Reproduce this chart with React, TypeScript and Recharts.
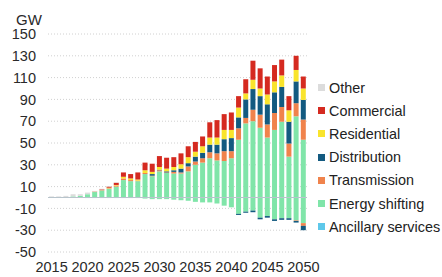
import { Bar, BarChart, CartesianGrid, ReferenceLine, XAxis, YAxis } from "recharts";

const years = [
  "2015", "2016", "2017", "2018", "2019", "2020", "2021", "2022", "2023", "2024",
  "2025", "2026", "2027", "2028", "2029", "2030", "2031", "2032", "2033", "2034",
  "2035", "2036", "2037", "2038", "2039", "2040", "2041", "2042", "2043", "2044",
  "2045", "2046", "2047", "2048", "2049", "2050",
];

// GW by segment
const ancillary = [
  0, 0, 0, 0, 0, -0.5, -0.5, -0.5, -0.5, -0.5, -0.5, -0.5, -0.5, -0.5, -0.5, -0.5, -0.5, -0.5,
  -0.5, -0.5, -0.5, -0.5, 0, 0, 0, 0, 0, 0, 0, 0, 0, 0, 0, 0, 0, 0,
];
const energyShifting = [
  0, 0, 0.5, 1, 1.5, 3, 5, 6.5, 8, 10, 16, 15, 15, 21.5, 19.5, 24, 22.5, 22, 22, 24,
  30, 32, 36, 34, 33.5, 36, 53, 68, 70, 64, 55, 62, 69.5, 37.5, 74.5, 53,
];
const energyShiftingNeg = [
  0, 0, 0, 0, 0, 0, 0, 0, 0, 0, 0, 0, 0, -0.5, -1, -1, -1, -1.5, -2, -2.5,
  -3.5, -4, -4.5, -5.5, -7.5, -9, -15, -13, -12, -18.5, -17, -20, -19, -19, -21, -23.5,
];
const transmission = [
  0, 0, 0, 0, 0, 0, 0.5, 0.5, 0.5, 1, 1.5, 1, 0.5, 1, 0.5, 1, 0.5, 1.5, 1, 4.5,
  3, 4, 5.5, 6.5, 9, 6.5, 10.5, 5, 10.5, 12, 12, 15.5, 13.5, 12, 12, 18.5,
];
const transmissionNeg = [
  0, 0, 0, 0, 0, 0, 0, 0, 0, 0, 0, 0, 0, 0, 0, 0, 0, 0, 0, 0,
  0, 0, 0, 0, 0, 0, 0, 0, 0, 0, 0, 0, 0, 0, -0.5, -2.5,
];
const distribution = [
  0, 0, 0, 0, 0, 0, 0, 0, 0, 0, 0, 0, 0, 0, 1.5, 0.5, 1, 1.5, 3.5, 3,
  4.5, 5, 7, 8, 11, 12, 10, 17, 19, 17, 18.5, 19, 18.5, 20, 20, 18,
];
const distributionNeg = [
  0, 0, 0, 0, 0, 0, 0, 0, 0, 0, 0, 0, 0, 0, 0, 0, 0, 0, 0, 0,
  0, 0, 0, 0, 0, 0, -1, -1, -1.5, -1.5, -1.5, -1.5, -1.5, -1.5, -1.5, -4,
];
const residential = [
  0, 0, 0, 0, 0, 0, 0, 0, 0.5, 0.5, 1.5, 1.5, 1, 2.5, 2, 2.5, 2.5, 3, 4, 5.5,
  4.5, 6, 6.5, 6.5, 8.5, 7.5, 9, 5.5, 8.5, 7, 9, 10, 10.5, 10.5, 10.5, 10.5,
];
const commercial = [
  0, 0, 0, 0, 0, 0, 0, 0.5, 1, 2, 4, 4, 6.5, 7, 7.5, 10, 10, 9, 10, 10,
  9, 9, 14, 16, 14.5, 16, 10.5, 13, 17.5, 18.5, 16.5, 15, 14.5, 13, 13, 11,
];
const other = [
  1, 1, 1, 2, 1.5, 1.5, 0.5, 0.5, 0.5, 0.5, 0, 0, 0, 0, 0, 0, 0, 0, 0, 0,
  0, 0, 0, 0, 0, 0, 0, 0, 0, 0, 0, 0, 0, 0, 0, 0,
];

const yTicks = [150, 130, 110, 90, 70, 50, 30, 10, -10, -30, -50];

const data = years.map((year, i) => ({
  year,
  ancillary: ancillary[i],
  energyShifting: energyShifting[i],
  energyShiftingNeg: energyShiftingNeg[i],
  transmission: transmission[i],
  transmissionNeg: transmissionNeg[i],
  distribution: distribution[i],
  distributionNeg: distributionNeg[i],
  residential: residential[i],
  commercial: commercial[i],
  other: other[i],
}));

const COLORS = {
  ancillary: "#5ec8ea",
  energyShifting: "#80e5a9",
  transmission: "#f0834c",
  distribution: "#135a80",
  residential: "#f9e42c",
  commercial: "#d52a20",
  other: "#dcdcdc",
};

// stacking order, bottom to top
const series = [
  { key: "ancillary", color: COLORS.ancillary },
  { key: "energyShifting", color: COLORS.energyShifting },
  { key: "energyShiftingNeg", color: COLORS.energyShifting },
  { key: "transmission", color: COLORS.transmission },
  { key: "transmissionNeg", color: COLORS.transmission },
  { key: "distribution", color: COLORS.distribution },
  { key: "distributionNeg", color: COLORS.distribution },
  { key: "residential", color: COLORS.residential },
  { key: "commercial", color: COLORS.commercial },
  { key: "other", color: COLORS.other },
];

const legendItems = [
  { name: "Other", color: COLORS.other },
  { name: "Commercial", color: COLORS.commercial },
  { name: "Residential", color: COLORS.residential },
  { name: "Distribution", color: COLORS.distribution },
  { name: "Transmission", color: COLORS.transmission },
  { name: "Energy shifting", color: COLORS.energyShifting },
  { name: "Ancillary services", color: COLORS.ancillary },
];

const FONT = "'Liberation Sans', Arial, sans-serif";

export default function App() {
  return (
    <div style={{ position: "relative", width: 442, height: 277, background: "#fff", fontFamily: FONT }}>
      <style>{"body{margin:0}"}</style>
      <div style={{ position: "absolute", left: 16, top: 11, fontSize: 15, color: "#2a2a2a" }}>GW</div>
      <BarChart
        width={442}
        height={277}
        data={data}
        stackOffset="sign"
        barSize={5}
        margin={{ top: 34, right: 135, bottom: 0, left: 8 }}
      >
        <CartesianGrid vertical={false} stroke="#d0d0d0" strokeDasharray="1 2" />
        <XAxis
          dataKey="year"
          interval={4}
          axisLine={false}
          tickLine={false}
          height={25}
          tick={{ fontSize: 14.5, fill: "#2a2a2a", fontFamily: FONT }}
          tickMargin={4}
        />
        <YAxis
          domain={[-50, 150]}
          ticks={yTicks}
          interval={0}
          axisLine={false}
          tickLine={false}
          width={40}
          tick={{ fontSize: 14.5, fill: "#2a2a2a", fontFamily: FONT }}
          tickMargin={6}
        />
        <ReferenceLine y={0} stroke="#b8c4cc" />
        {series.map((s) => (
          <Bar key={s.key} dataKey={s.key} stackId="gw" fill={s.color} isAnimationActive={false} />
        ))}
      </BarChart>
      <div style={{ position: "absolute", left: 318, top: 76, fontSize: 14.4, color: "#222" }}>
        {legendItems.map((item) => (
          <div key={item.name} style={{ display: "flex", alignItems: "center", height: 23.2 }}>
            <span style={{ width: 7, height: 7, background: item.color, marginRight: 4, flex: "none" }} />
            <span>{item.name}</span>
          </div>
        ))}
      </div>
    </div>
  );
}
